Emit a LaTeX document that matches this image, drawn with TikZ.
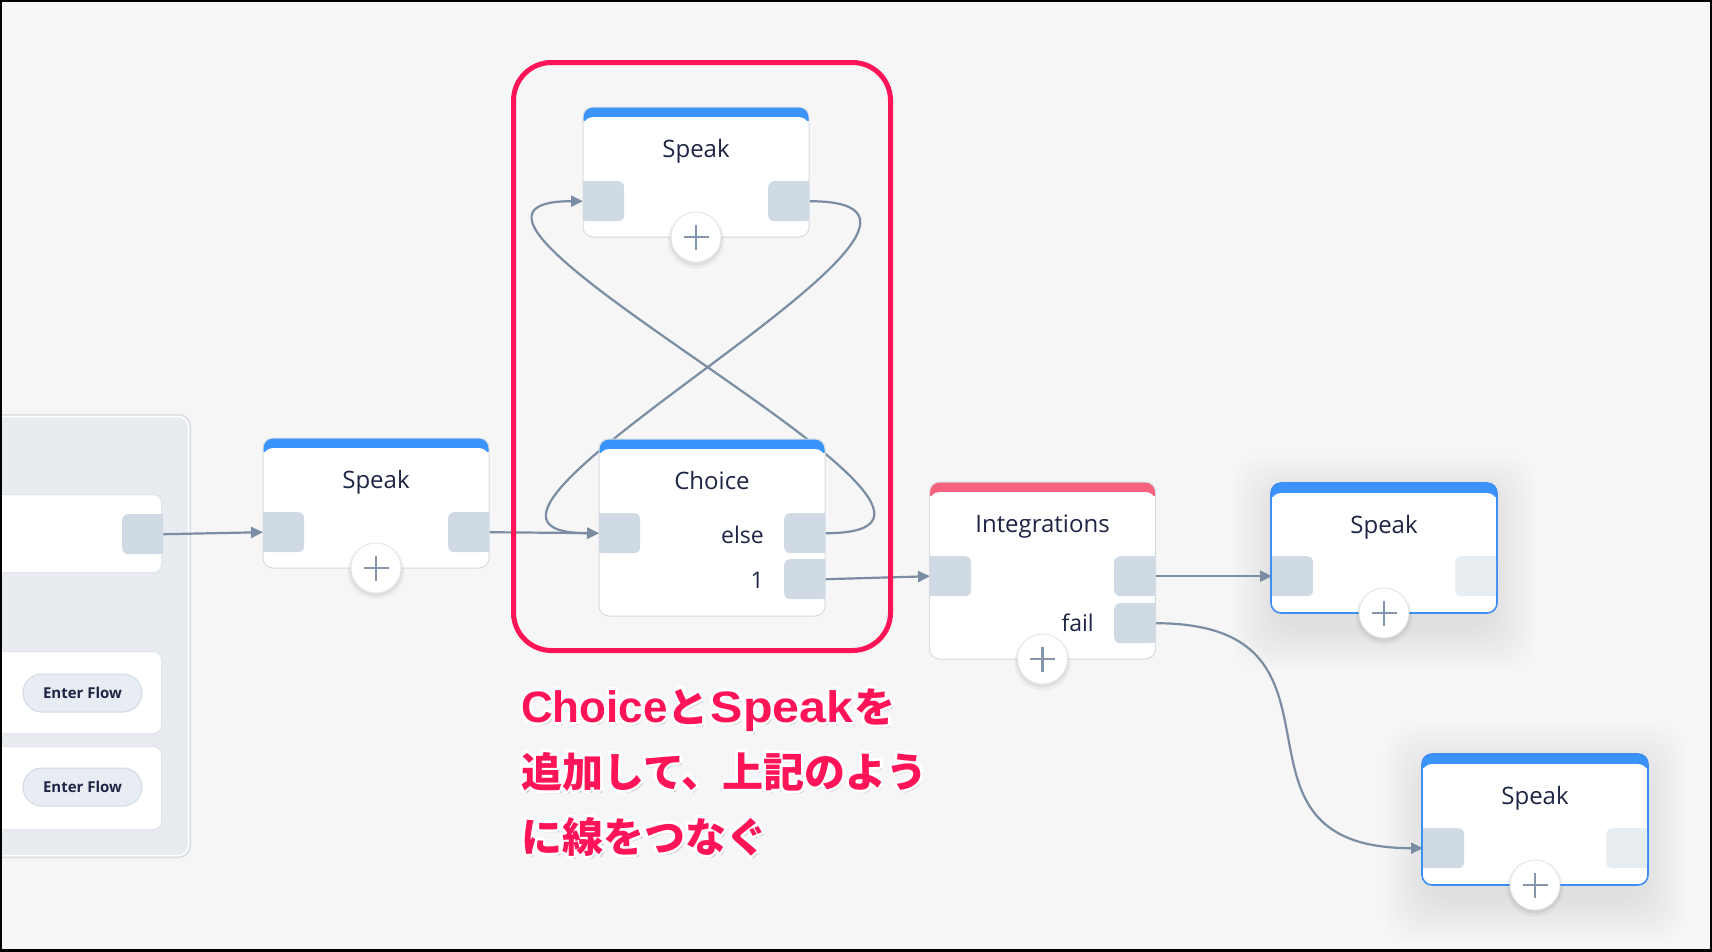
\documentclass[tikz,border=0pt]{standalone}
\usepackage{fontspec}
\usepackage{graphicx}
\setmainfont{Open Sans}
\newfontfamily\jpfont{Noto Sans CJK JP}
\newfontfamily\jplat{Liberation Sans}
\usetikzlibrary{arrows.meta,calc}
\definecolor{bg}{HTML}{F6F6F6}
\definecolor{ink}{HTML}{1E2545}
\definecolor{barblue}{HTML}{3A92FB}
\definecolor{barred}{HTML}{F7637F}
\definecolor{portc}{HTML}{D0DAE4}
\definecolor{portl}{HTML}{E8EDF2}
\definecolor{nodeborder}{HTML}{D6DBE1}
\definecolor{selblue}{HTML}{3D8EF5}
\definecolor{plusc}{HTML}{8596AB}
\definecolor{plusborder}{HTML}{E3E7EC}
\definecolor{connc}{HTML}{7B8DA2}
\definecolor{framered}{HTML}{FF1458}
\definecolor{panelfill}{HTML}{E8EBF0}
\definecolor{panelborder}{HTML}{D9DEE4}
\definecolor{cardborder}{HTML}{E1E5EA}
\definecolor{pillfill}{HTML}{E8EDF3}
\definecolor{pillborder}{HTML}{D2DAE4}
\definecolor{glowc}{HTML}{A3B5CC}
\pgfdeclarelayer{edgelayer}
\pgfsetlayers{edgelayer,main}
\newcommand\myportL[4][portc]{\node[portn,fill=#1] (#2) at (#3,#4) {}; \fill[#1] (#2.north west) rectangle (#2.south);}
\newcommand\myportR[4][portc]{\node[portn,fill=#1] (#2) at (#3,#4) {}; \fill[#1] (#2.north) rectangle (#2.south east);}
\newcommand\myplus[3]{\fill[black,opacity=0.04] (#2,#3+3) circle (28.5pt); \fill[black,opacity=0.05] (#2,#3+2) circle (26.5pt); \node[plusn] (#1) at (#2,#3) {};}
\newcommand\myglow[4]{\foreach \k in {2,4,...,44} {\fill[glowc,opacity=0.012,rounded corners=32pt] (#1-\k+4,#2-\k+14) rectangle (#3+\k-4,#4+\k+14);}}
\newcommand\latw[1]{{\jplat\bfseries\fontsize{44}{48}\selectfont #1}}
\newcommand\jlineA{\latw{Choice}と\hspace{2pt}\scalebox{1.1}[1]{\latw{Speak}}\hspace{1pt}を}
\newcommand\jlineB{追加して、上記のよう}
\newcommand\jlineC{に線をつなぐ}
\begin{document}
\begin{tikzpicture}[x=1pt,y=-1pt,
  fbody/.style={rectangle, minimum width=226pt, inner sep=0pt, rounded corners=10pt, draw=nodeborder, line width=1pt, fill=white,
    path picture={\fill[#1, sharp corners] (path picture bounding box.north west) rectangle ([yshift=-14pt]path picture bounding box.north east);
      \fill[white, rounded corners=10pt] ([yshift=-10pt]path picture bounding box.north west) rectangle ([yshift=-30pt]path picture bounding box.south east);}},
  fsel/.style={fbody=#1, draw=selblue, line width=1.6pt},
  portn/.style={rectangle, rounded corners=6pt, minimum width=41pt, minimum height=40pt, inner sep=0pt, anchor=north west},
  plusn/.style={circle, minimum size=50pt, inner sep=0pt, fill=white, draw=plusborder, line width=0.8pt,
    path picture={\draw[plusc, line width=2.6pt] ([xshift=-12.5pt]path picture bounding box.center) -- ([xshift=12.5pt]path picture bounding box.center);
      \draw[plusc, line width=2.6pt] ([yshift=-12.5pt]path picture bounding box.center) -- ([yshift=12.5pt]path picture bounding box.center);}},
  title/.style={font=\fontsize{24}{28}\selectfont, text=ink, inner sep=0pt, anchor=base},
  plabel/.style={font=\fontsize{23}{28}\selectfont, text=ink, inner sep=0pt, anchor=base east},
  conn/.style={draw=connc, line width=2.2pt, -{Triangle[length=12pt,width=11pt]}},
  card/.style={rectangle, rounded corners=8pt, fill=white, draw=cardborder, line width=1pt, minimum width=220pt, inner sep=0pt, anchor=north east},
  pill/.style={rectangle, rounded corners=19pt, fill=pillfill, draw=pillborder, line width=1pt, minimum width=119pt, minimum height=38pt, inner sep=0pt, text=ink, font=\fontsize{15}{18}\selectfont\bfseries},
  jpbase/.style={inner sep=0pt, anchor=base west, font=\jpfont\bfseries\fontsize{41}{48}\selectfont},
  jpw/.style={jpbase, text=white},
  jpsh/.style={jpbase, text=black, opacity=0.16},
  jpt/.style={jpbase, text=framered}
]
\useasboundingbox (0,0) rectangle (1712,951);
\begin{pgfonlayer}{edgelayer}
\fill[bg] (0,0) rectangle (1712,951);
% left panel
\fill[panelfill, rounded corners=12pt] (-30,414) rectangle (191,858);
\draw[panelborder, line width=1.5pt, rounded corners=12pt] (-30,414.75) rectangle (190.25,857.25);
\draw[white, line width=1.5pt, rounded corners=10pt] (-30,416.5) rectangle (188.5,855.5);
% glows of selected nodes
\myglow{1272}{483}{1496}{613}
\myglow{1423}{754}{1647}{885}
\end{pgfonlayer}

% panel cards
\node[card, minimum height=78pt] (card1) at (162,494) {};
\node[card, minimum height=82pt] (card2) at (162,651) {};
\node[card, minimum height=83pt] (card3) at (162,746) {};
\myportR{pport}{122}{514}
\node[pill] (ef1) at (82.5,693) {Enter Flow};
\node[pill] (ef2) at (82.5,787) {Enter Flow};

% Speak (top)
\node[fbody=barblue, minimum height=130pt] (spkA) at (696,172) {};
\node[title] (spkAt) at (696,157) {Speak};
\myportL{spkAin}{583}{181}
\myportR{spkAout}{768}{181}
\myplus{spkAplus}{696}{237}

% Choice
\node[fbody=barblue, minimum height=177pt] (cho) at (712,527.5) {};
\node[title] (chot) at (712,489) {Choice};
\myportL{choIn}{599}{513}
\myportR{choElse}{784}{513}
\myportR{choOne}{784}{559}
\node[plabel] (choElseL) at (764,543) {else};
\node[plabel] (choOneL) at (764,588) {1};

% Speak (left)
\node[fbody=barblue, minimum height=130pt] (spkB) at (376,503) {};
\node[title] (spkBt) at (376,488) {Speak};
\myportL{spkBin}{263}{512}
\myportR{spkBout}{448}{512}
\myplus{spkBplus}{376}{568}

% Integrations
\node[fbody=barred, minimum height=177pt] (integ) at (1042.5,570.5) {};
\node[title] (integt) at (1042.5,532) {Integrations};
\myportL{integIn}{930}{556}
\myportR{integOut}{1114}{556}
\myportR{integFail}{1114}{603}
\node[plabel] (integFailL) at (1094,631) {fail};
\myplus{integplus}{1042.5}{659}

% Speak (right top, selected)
\node[fsel=barblue, minimum height=130pt] (spkC) at (1384,548) {};
\node[title] (spkCt) at (1384,533) {Speak};
\myportL{spkCin}{1272}{556}
\myportR[portl]{spkCout}{1455}{556}
\myplus{spkCplus}{1384}{613}

% Speak (right bottom, selected)
\node[fsel=barblue, minimum height=131pt] (spkD) at (1535,819.5) {};
\node[title] (spkDt) at (1535,804) {Speak};
\myportL{spkDin}{1423}{828}
\myportR[portl]{spkDout}{1606}{828}
\myplus{spkDplus}{1535}{885}

% connectors
\begin{pgfonlayer}{edgelayer}
\draw[conn] (pport.east) -- (spkBin.west);
\draw[conn] (spkBout.east) -- (choIn.west);
\draw[conn] (choElse.east) .. controls +(235,0) and +(-222,0) .. (spkAin.west);
\draw[conn] (spkAout.east) .. controls +(235,0) and +(-222,0) .. (choIn.west);
\draw[conn] (choOne.east) -- (integIn.west);
\draw[conn] (integOut.east) -- (spkCin.west);
\draw[conn] (integFail.east) .. controls +(220,0) and +(-220,0) .. (spkDin.west);
\end{pgfonlayer}

% red highlight frame
\draw[framered, line width=5pt, rounded corners=38pt] (513.5,62.5) rectangle (890.5,650.5);

% annotation text
\node[jpsh] (shA) at (523,725) {\jlineA};
\node[jpsh] (shB) at (523,790) {\jlineB};
\node[jpsh] (shC) at (523,855) {\jlineC};
\foreach \ang [count=\i] in {0,30,...,330} {
  \node[jpw] (wA\i) at ($(521,722)+(\ang:3pt)$) {\jlineA};
  \node[jpw] (wB\i) at ($(521,787)+(\ang:3pt)$) {\jlineB};
  \node[jpw] (wC\i) at ($(521,852)+(\ang:3pt)$) {\jlineC};
}
\node[jpt] (txtA) at (521,722) {\jlineA};
\node[jpt] (txtB) at (521,787) {\jlineB};
\node[jpt] (txtC) at (521,852) {\jlineC};

% outer frame
\draw[black, line width=4pt] (0,0) rectangle (1712,951);
\end{tikzpicture}
\end{document}
